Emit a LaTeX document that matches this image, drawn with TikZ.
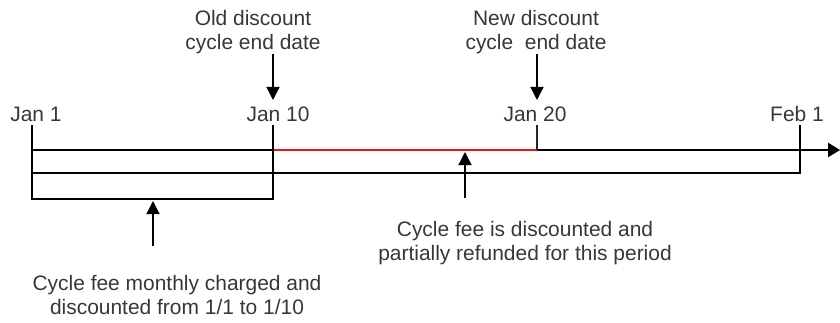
\documentclass[tikz,border=0pt]{standalone}
\usepackage{fontspec}
\setmainfont{Liberation Sans}
\usetikzlibrary{arrows.meta}
\definecolor{notegray}{RGB}{55,55,55}
\definecolor{periodred}{RGB}{240,20,20}
\tikzset{
  timeline/.style={line width=0.8pt, draw=black},
  datetick/.style={line width=0.9pt, draw=black!85},
  refund/.style={line width=2pt, draw=periodred},
  pointer/.style={line width=0.9pt, -{Triangle[length=0.33cm, width=0.33cm]}},
  date-label/.style={text=notegray, inner sep=0pt, anchor=base, font=\fontsize{14.9pt}{17.1pt}\selectfont},
  note/.style={text=notegray, inner sep=0pt, align=center, font=\fontsize{14.9pt}{17.1pt}\selectfont}
}

\begin{document}
\begin{tikzpicture}[x=0.025cm, y=-0.025cm]
  \useasboundingbox (0,0) rectangle (840,322);
  % --- tops of the day marks (x and y in pixels) ---
  \coordinate (t1)   at (32,125);
  \coordinate (t10)  at (273,125);
  \coordinate (t20)  at (537,125);
  \coordinate (tfeb) at (800,125);
  % --- axis, lower band and bracket corners ---
  \coordinate (a1)   at (32,150);
  \coordinate (a10)  at (273,150);
  \coordinate (a20)  at (537,150);
  \coordinate (aend) at (840,150);
  \coordinate (m1)   at (32,173);
  \coordinate (mfeb) at (800,173);
  \coordinate (b1)   at (32,199);
  \coordinate (b10)  at (273,199);

  % time axis, refunded period in red
  \draw[timeline] (a1) -- (a10);
  \draw[refund] (a10) -- (a20);
  \draw[timeline, -{Triangle[length=0.3cm, width=0.36cm]}] (a20) -- (aend);
  % monthly cycle and charged period
  \draw[timeline] (m1) -- (mfeb) -- (tfeb);
  \draw[timeline] (t1) -- (b1) -- (b10) -- (t10);
  \draw[datetick] (t20) -- (a20);

  % --- dates ---
  \node[date-label] (jan1)  at (36,121)  {Jan 1};
  \node[date-label] (jan10) at (278,121) {Jan 10};
  \node[date-label] (jan20) at (535,121) {Jan 20};
  \node[date-label] (feb1)  at (797,121) {Feb 1};

  % --- end dates, pointing down ---
  \node[note, anchor=south] (oldend) at (253,54) {Old discount\\cycle end date};
  \node[note, anchor=south] (newend) at (536,54) {New discount\\cycle \ end date};
  \coordinate (oldtip) at (273,100);
  \coordinate (newtip) at (537,100);
  \draw[pointer] (oldend.south -| oldtip) -- (oldtip);
  \draw[pointer] (newend.south -| newtip) -- (newtip);

  % --- periods, pointing up ---
  \node[note, anchor=north] (monthly)  at (177,275) {Cycle fee monthly charged and\\discounted from 1/1 to 1/10};
  \node[note, anchor=north] (refunded) at (525,221) {Cycle fee is discounted and\\partially refunded for this period};
  \coordinate (montail) at (153,246);
  \coordinate (montip)  at (153,201);
  \coordinate (reftail) at (465,198);
  \coordinate (reftip)  at (465,152);
  \draw[pointer] (montail) -- (montip);
  \draw[pointer] (reftail) -- (reftip);
\end{tikzpicture}
\end{document}
